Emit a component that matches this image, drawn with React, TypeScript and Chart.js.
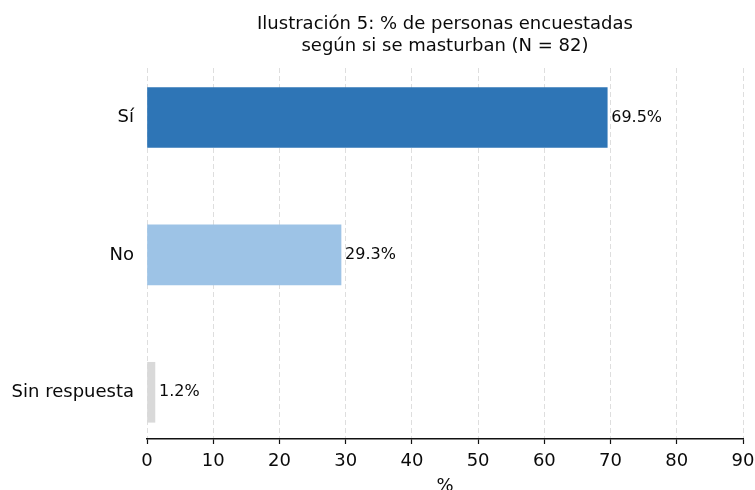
import React, { useEffect, useRef } from "react";
import { Chart, registerables } from "chart.js";

Chart.register(...registerables);

const categories = ["Sí", "No", "Sin respuesta"];
const values = [69.5, 29.3, 1.2];
const barColors = ["#2e75b6", "#9dc3e6", "#d9d9d9"];
const xTicks = [0, 10, 20, 30, 40, 50, 60, 70, 80, 90];
const titleLines = ["Ilustración 5: % de personas encuestadas", "según si se masturban (N = 82)"];
const xTitle = "%";

const FONT = '"DejaVu Sans", sans-serif';

export default function App() {
  const ref = useRef<HTMLCanvasElement | null>(null);

  useEffect(() => {
    document.body.style.margin = "0";
    const canvas = ref.current;
    if (!canvas) return;

    const overlay = {
      id: "overlay",
      afterDatasetsDraw(chart: any) {
        const ctx = chart.ctx;
        const meta = chart.getDatasetMeta(0);
        ctx.save();
        ctx.fillStyle = "#0a0a0a";
        ctx.font = `16px ${FONT}`;
        ctx.textAlign = "left";
        ctx.textBaseline = "middle";
        meta.data.forEach((bar: any, i: number) => {
          ctx.fillText(values[i].toFixed(1) + "%", bar.x + 4, bar.y);
        });
        ctx.restore();
      },
      afterDraw(chart: any) {
        const ctx = chart.ctx;
        const area = chart.chartArea;
        const cx = (area.left + area.right) / 2;
        ctx.save();
        ctx.fillStyle = "#0a0a0a";
        ctx.font = `18px ${FONT}`;
        ctx.textAlign = "center";
        ctx.textBaseline = "alphabetic";
        ctx.fillText(titleLines[0], cx, 29);
        ctx.fillText(titleLines[1], cx, 51);
        ctx.fillText(xTitle, cx, 491);
        ctx.restore();
      },
    };

    const chart = new Chart(canvas, {
      type: "bar",
      data: {
        datasets: [
          {
            data: values.map((v, i) => ({ x: v, y: i })),
            backgroundColor: barColors,
            borderWidth: 0,
            barThickness: 60,
          },
        ],
      },
      options: {
        indexAxis: "y",
        animation: false,
        responsive: false,
        maintainAspectRatio: false,
        layout: { padding: { top: 68, right: 12, left: 0, bottom: 0 } },
        plugins: {
          legend: { display: false },
          title: { display: false },
          tooltip: { enabled: false },
        },
        scales: {
          x: {
            type: "linear",
            position: "bottom",
            min: 0,
            max: 90,
            afterBuildTicks: (scale: any) => {
              scale.ticks = xTicks.map((v) => ({ value: v }));
            },
            afterFit: (scale: any) => {
              scale.height = 51;
              scale.paddingRight = 0;
              scale.paddingLeft = 0;
            },
            ticks: {
              font: { family: FONT, size: 18 },
              color: "#0a0a0a",
              padding: 7,
              maxRotation: 0,
            },
            grid: {
              color: "#dedede",
              lineWidth: 1,
              tickLength: 5,
              tickColor: "#111111",
              tickWidth: 1.2,
            },
            border: { display: true, color: "#111111", width: 1.4, dash: [5, 3] },
          },
          y: {
            type: "linear",
            reverse: true,
            offset: false,
            min: -0.36,
            max: 2.34,
            afterBuildTicks: (scale: any) => {
              scale.ticks = categories.map((_, i) => ({ value: i }));
            },
            afterFit: (scale: any) => {
              scale.width = 147;
              scale.paddingTop = 0;
              scale.paddingBottom = 0;
            },
            ticks: {
              font: { family: FONT, size: 18 },
              color: "#0a0a0a",
              padding: 13,
              callback: (v: any) => categories[Number(v)] ?? "",
            },
            grid: { display: false, drawTicks: false, offset: false },
            border: { display: false },
          },
        },
      },
      plugins: [overlay],
    } as any);

    return () => chart.destroy();
  }, []);

  return (
    <div style={{ position: "fixed", left: 0, top: 0, width: 755, height: 490, background: "#ffffff" }}>
      <canvas ref={ref} width={755} height={490} style={{ display: "block", width: 755, height: 490 }} />
    </div>
  );
}
